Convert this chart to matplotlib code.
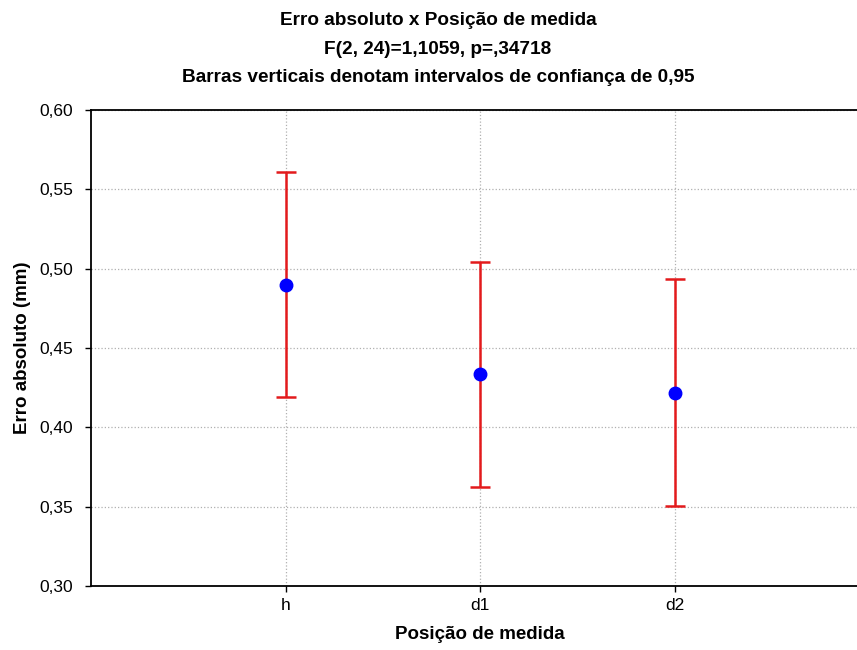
import matplotlib
matplotlib.use("Agg")
import matplotlib.pyplot as plt
import numpy as np

plt.rcParams['font.family'] = ['Liberation Sans', 'DejaVu Sans']

# medias e limites dos intervalos de confianca (0,95)
posicoes = ['h', 'd1', 'd2']
medias = [0.490, 0.4335, 0.4217]
ic_sup = [0.561, 0.504, 0.4934]
ic_inf = [0.4193, 0.3623, 0.3505]

yticks = [0.30, 0.35, 0.40, 0.45, 0.50, 0.55, 0.60]
ytick_labels = ['0,30', '0,35', '0,40', '0,45', '0,50', '0,55', '0,60']

fig = plt.figure(figsize=(8.57, 6.5), dpi=100)
ax = fig.add_axes([0.1062, 0.0985, 0.908, 0.7323])

x = np.arange(1, len(posicoes) + 1)
medias = np.array(medias)
err = [medias - np.array(ic_inf), np.array(ic_sup) - medias]

ax.errorbar(x, medias, yerr=err, fmt='none', ecolor='#e31a1c', elinewidth=1.8,
            capsize=7, capthick=1.8, zorder=3)
ax.plot(x, medias, 'o', color='#0000ff', markersize=9, zorder=4)

ax.set_xlim(0, 4)
ax.set_ylim(0.30, 0.60)
ax.set_xticks(x)
ax.set_xticklabels(posicoes, fontsize=12.5)
ax.set_yticks(yticks)
ax.set_yticklabels(ytick_labels, fontsize=12.5)
ax.tick_params(axis='y', direction='out', length=4, width=1, pad=9)
ax.tick_params(axis='x', direction='out', length=4, width=1, pad=5)

ax.grid(True, linestyle=':', color='#b0b0b0', linewidth=0.9)
ax.set_axisbelow(True)
for s in ['top', 'bottom', 'left']:
    ax.spines[s].set_linewidth(1.3)
ax.spines['right'].set_visible(False)

ax.set_xlabel('Posição de medida', fontsize=13.5, fontweight='bold', labelpad=9)
ax.set_ylabel('Erro absoluto (mm)', fontsize=13.5, fontweight='bold', labelpad=6)

titulos = ['Erro absoluto x Posição de medida',
           'F(2, 24)=1,1059, p=,34718',
           'Barras verticais denotam intervalos de confiança de 0,95']
for i, t in enumerate(titulos):
    fig.text(0.511, 0.969 - i * 0.0445, t, ha='center', va='center',
             fontsize=13.7, fontweight='bold')

fig.savefig('out.png', dpi=100)
